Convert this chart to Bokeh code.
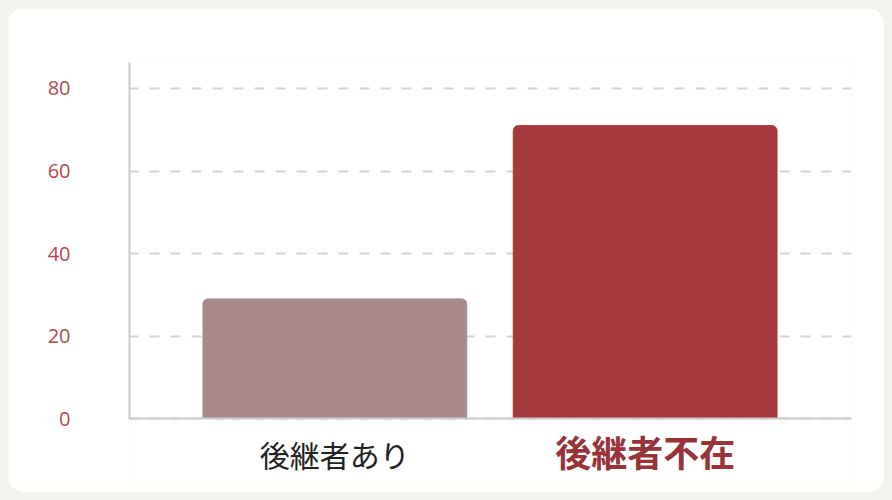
from bokeh.plotting import figure
from bokeh.models import Range1d, FixedTicker, ColumnDataSource, Span
from bokeh.core.properties import value
from bokeh.embed import file_html
from bokeh.resources import INLINE

categories = ["後継者あり", "後継者不在"]
values = [29, 71]
bar_colors = ["#a98a8c", "#a6393d"]
y_ticks = [0, 20, 40, 60, 80]

PAD = 0.165
Y_TOP = 86.3
Y_BOTTOM = -15.5   # room below zero for the category labels
# category i is centred at i + 0.5 on a numeric x range
xpos = [i + 0.5 for i in range(len(categories))]
src = ColumnDataSource(dict(x=xpos, cat=categories, top=values, color=bar_colors))

p = figure(
    x_range=Range1d(-PAD, len(categories) + PAD),
    y_range=Range1d(Y_BOTTOM, Y_TOP),
    width=876, height=484,
    output_backend="svg", toolbar_location=None,
    min_border_left=120, min_border_right=33, min_border_top=54, min_border_bottom=10,
)
p.background_fill_color = "white"
p.border_fill_color = "white"
p.outline_line_color = None
p.styles = {"border-radius": "16px", "overflow": "hidden", "margin": "8px"}

# axes
p.xaxis.visible = False
p.yaxis.ticker = FixedTicker(ticks=y_ticks)
p.yaxis.major_tick_line_color = None
p.yaxis.minor_tick_line_color = None
p.yaxis.major_label_standoff = 52
p.yaxis.major_label_text_font = "Open Sans"
p.yaxis.major_label_text_font_size = "20px"
p.yaxis.major_label_text_color = "#b5474b"
p.yaxis.axis_line_color = None

p.xgrid.grid_line_color = None
p.ygrid.grid_line_color = "#d4d4d4"
p.ygrid.grid_line_width = 2
p.ygrid.grid_line_dash = "10 11"

# axis lines (baseline at zero, vertical line from zero to the top)
p.add_layout(Span(location=0, dimension="width", line_color="#cccccc", line_width=2))
p.segment(x0=[p.x_range.start], y0=[0], x1=[p.x_range.start], y1=[Y_TOP],
          line_color="#cccccc", line_width=4)

p.vbar(x="x", top="top", width=0.85, color="color", source=src, border_radius=(5, 5, 0, 0))

label_styles = [
    dict(color="#222222", size="30px", style="normal", y=-8.5),
    dict(color="#96343a", size="36px", style="bold", y=-7.9),
]
for x, cat, st in zip(xpos, categories, label_styles):
    p.text(x=[x], y=[st["y"]], text=[cat], text_align="center", text_baseline="middle",
           text_font=value("Noto Sans CJK JP"), text_font_size=st["size"],
           text_font_style=st["style"], text_color=st["color"])

html = file_html(p, INLINE)
css = "<style>html, body { background-color: #f3f3ed !important; }</style></head>"
html = html.replace("</head>", css, 1)
open("out.html", "w").write(html)
